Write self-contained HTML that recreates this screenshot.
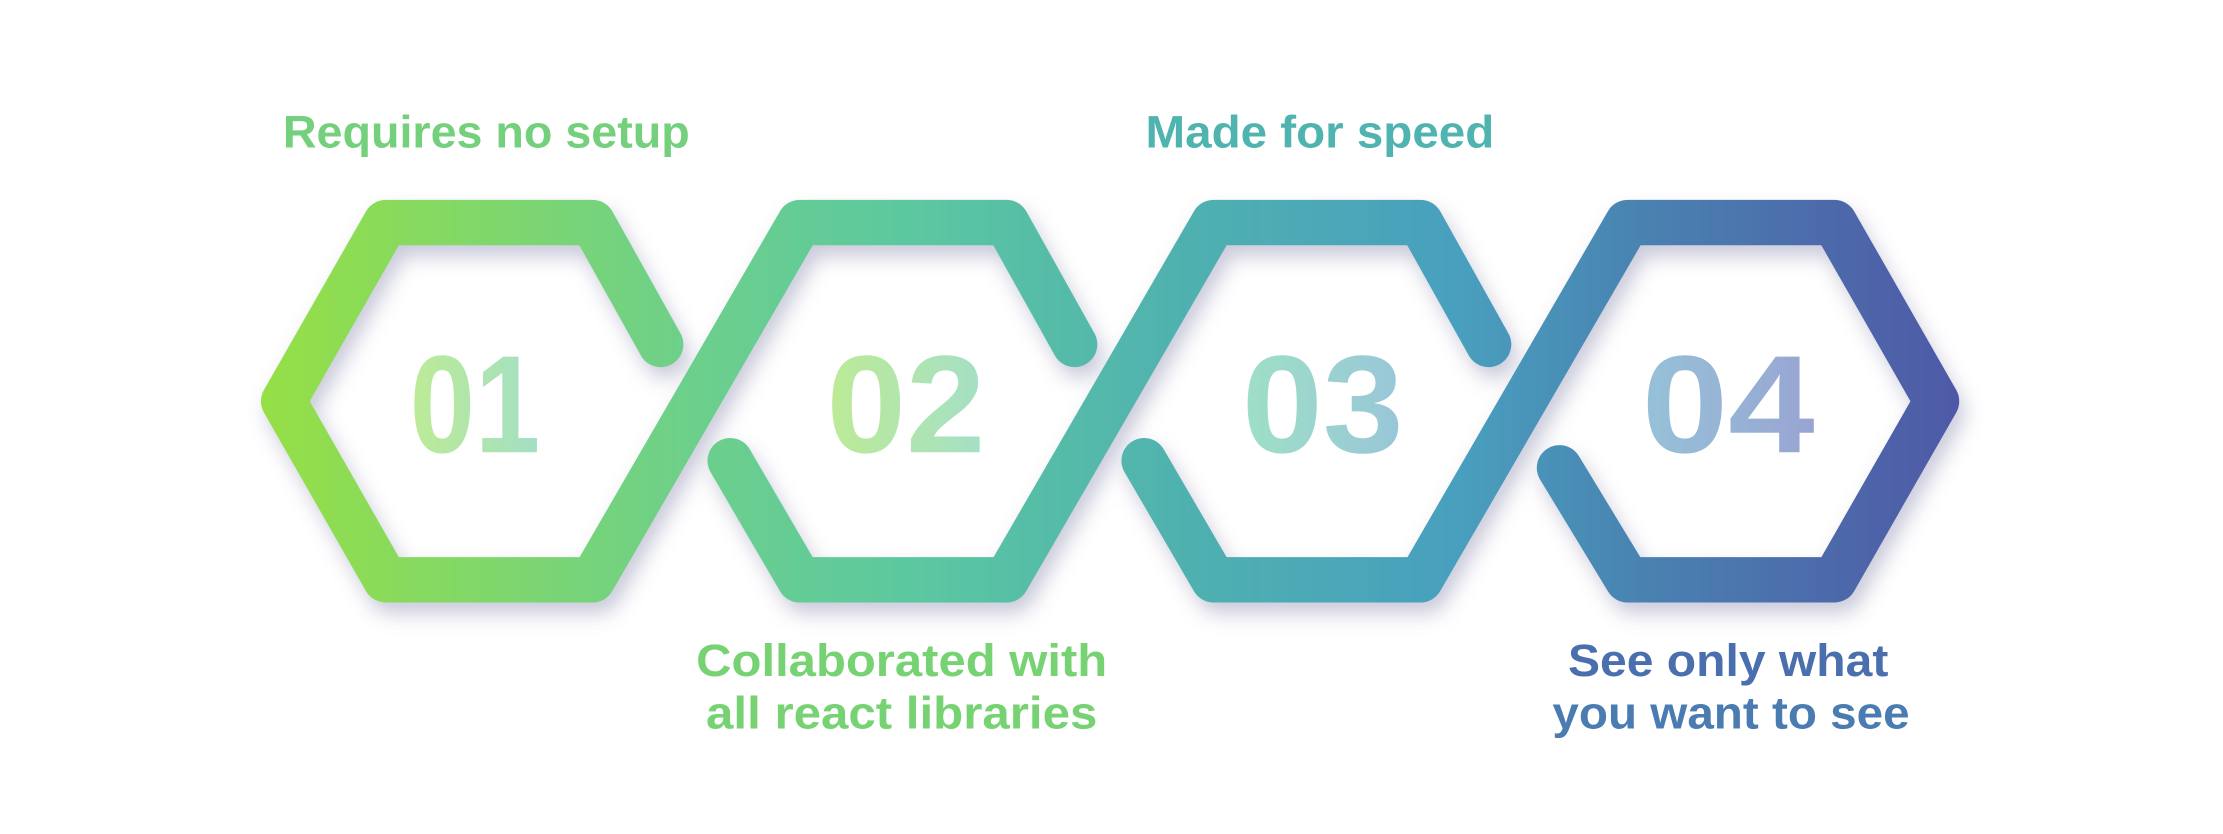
<!DOCTYPE html>
<html><head><meta charset="utf-8"><style>html,body{margin:0;padding:0;background:#fff}svg{display:block}text{font-family:"Liberation Sans","DejaVu Sans",sans-serif;font-weight:bold}</style></head>
<body>
<svg width="2223" height="834" viewBox="0 0 1568 588.3" xmlns="http://www.w3.org/2000/svg">
<defs>
<linearGradient id="g" gradientUnits="userSpaceOnUse" x1="183" y1="0" x2="1386" y2="0">
<stop offset="0" stop-color="#96df46"/>
<stop offset="0.25" stop-color="#6dd08a"/>
<stop offset="0.38" stop-color="#5cc8a0"/>
<stop offset="0.55" stop-color="#4fb0b0"/>
<stop offset="0.7" stop-color="#48a0be"/>
<stop offset="0.82" stop-color="#4a80b0"/>
<stop offset="1" stop-color="#4f58a6"/>
</linearGradient>
<linearGradient id="n1" x1="0" x2="1"><stop offset="0" stop-color="#bdeb95"/><stop offset="1" stop-color="#a2dfc5"/></linearGradient>
<linearGradient id="n2" x1="0" x2="1"><stop offset="0" stop-color="#bdeb95"/><stop offset="1" stop-color="#a4dfc6"/></linearGradient>
<linearGradient id="n3" x1="0" x2="1"><stop offset="0" stop-color="#9ee0c6"/><stop offset="1" stop-color="#98c6d8"/></linearGradient>
<linearGradient id="n4" x1="0" x2="1"><stop offset="0" stop-color="#96c2d8"/><stop offset="1" stop-color="#98a4d2"/></linearGradient>
<filter id="sh" x="-10%" y="-20%" width="120%" height="150%">
<feDropShadow dx="4" dy="8" stdDeviation="7" flood-color="#8a8aae" flood-opacity="0.45"/>
</filter>
</defs>
<g fill="none" stroke="url(#g)" stroke-width="32" stroke-linecap="round" stroke-linejoin="round" filter="url(#sh)">
<path d="M466,243 L418,157 L272,157 L200,283 L272,409 L418,409 L564,157 L710,157 L758,243"/>
<path d="M515,325 L564,409 L710,409 L856,157 L1002,157 L1050,243"/>
<path d="M807,325 L856,409 L1002,409 L1148,157 L1294,157 L1366,283 L1294,409 L1148,409 L1100,330"/>
</g>
<g text-anchor="middle">
<text x="335" y="319" font-size="98" fill="url(#n1)" textLength="92" lengthAdjust="spacingAndGlyphs">01</text>
<text x="639" y="319" font-size="98" fill="url(#n2)" textLength="112" lengthAdjust="spacingAndGlyphs">02</text>
<text x="933" y="319" font-size="98" fill="url(#n3)" textLength="114" lengthAdjust="spacingAndGlyphs">03</text>
<text x="1219" y="319" font-size="98" fill="url(#n4)" textLength="122" lengthAdjust="spacingAndGlyphs">04</text>
<text x="343" y="104" font-size="32" fill="#74d07c" textLength="287" lengthAdjust="spacingAndGlyphs">Requires no setup</text>
<text x="931" y="104" font-size="32" fill="#4fb4b0" textLength="246" lengthAdjust="spacingAndGlyphs">Made for speed</text>
<text x="636" y="477" font-size="32" fill="#76d272" textLength="290" lengthAdjust="spacingAndGlyphs">Collaborated with</text>
<text x="636" y="514" font-size="32" fill="#76d272" textLength="276" lengthAdjust="spacingAndGlyphs">all react libraries</text>
<text x="1219" y="477" font-size="32" fill="#4a6fae" textLength="226" lengthAdjust="spacingAndGlyphs">See only what</text>
<text x="1221" y="514" font-size="32" fill="#4a7cb2" textLength="252" lengthAdjust="spacingAndGlyphs">you want to see</text>
</g>
</svg>
</body></html>
